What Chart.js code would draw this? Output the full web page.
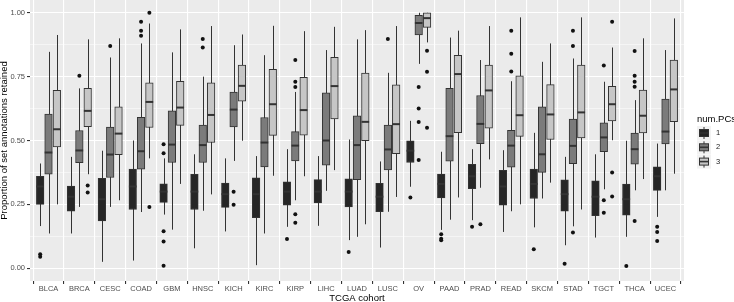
<!DOCTYPE html>
<html>
<head>
<meta charset="utf-8">
<script src="https://cdn.jsdelivr.net/npm/chart.js@4"></script>
<style>
  html, body { margin: 0; padding: 0; background: #fff; }
</style>
</head>
<body>
<canvas id="boxChart" width="734" height="302"></canvas>
<script>
const cohorts = ["BLCA", "BRCA", "CESC", "COAD", "GBM", "HNSC", "KICH", "KIRC", "KIRP", "LIHC",
                 "LUAD", "LUSC", "OV", "PAAD", "PRAD", "READ", "SKCM", "STAD", "TGCT", "THCA", "UCEC"];
const numPCs = ["1", "2", "3"];

// [lower whisker, q1, median, q3, upper whisker] per cohort
const pc1 = [
  [0.165, 0.250, 0.320, 0.360, 0.410], [0.136, 0.223, 0.280, 0.322, 0.436], [0.025, 0.185, 0.270, 0.352, 0.460],
  [0.030, 0.230, 0.320, 0.388, 0.500], [0.210, 0.258, 0.300, 0.330, 0.430], [0.078, 0.230, 0.300, 0.368, 0.446],
  [0.144, 0.238, 0.290, 0.333, 0.430], [0.012, 0.198, 0.290, 0.354, 0.439], [0.162, 0.247, 0.300, 0.338, 0.466],
  [0.166, 0.256, 0.300, 0.347, 0.439], [0.110, 0.240, 0.300, 0.350, 0.504], [0.081, 0.221, 0.280, 0.332, 0.418],
  [0.319, 0.414, 0.460, 0.499, 0.577], [0.150, 0.275, 0.330, 0.369, 0.456], [0.188, 0.311, 0.360, 0.407, 0.466],
  [0.142, 0.247, 0.320, 0.383, 0.462], [0.160, 0.273, 0.330, 0.388, 0.530], [0.090, 0.223, 0.290, 0.346, 0.436],
  [0.120, 0.206, 0.280, 0.342, 0.446], [0.123, 0.208, 0.270, 0.329, 0.499], [0.201, 0.305, 0.360, 0.397, 0.488]
];
const pc2 = [
  [0.136, 0.368, 0.453, 0.603, 0.847], [0.240, 0.413, 0.461, 0.539, 0.704], [0.240, 0.355, 0.445, 0.553, 0.825],
  [0.220, 0.388, 0.458, 0.591, 0.880], [0.151, 0.414, 0.484, 0.616, 0.845], [0.225, 0.414, 0.482, 0.560, 0.750],
  [0.420, 0.553, 0.621, 0.690, 0.873], [0.136, 0.397, 0.492, 0.590, 0.834], [0.266, 0.420, 0.480, 0.535, 0.690],
  [0.303, 0.403, 0.500, 0.687, 0.854], [0.123, 0.347, 0.482, 0.597, 0.896], [0.221, 0.385, 0.465, 0.560, 0.765],
  [0.800, 0.913, 0.960, 0.990, 1.000], [0.190, 0.419, 0.517, 0.704, 0.903], [0.315, 0.488, 0.565, 0.676, 0.815],
  [0.223, 0.396, 0.480, 0.540, 0.732], [0.273, 0.375, 0.446, 0.632, 0.808], [0.164, 0.409, 0.479, 0.584, 0.821],
  [0.309, 0.456, 0.512, 0.569, 0.730], [0.305, 0.407, 0.466, 0.529, 0.658], [0.305, 0.487, 0.535, 0.662, 0.854]
];
const pc3 = [
  [0.250, 0.475, 0.544, 0.696, 0.913], [0.368, 0.554, 0.616, 0.704, 0.896], [0.266, 0.445, 0.527, 0.632, 0.900],
  [0.430, 0.551, 0.651, 0.726, 0.958], [0.330, 0.559, 0.629, 0.732, 0.935], [0.289, 0.492, 0.600, 0.726, 0.948],
  [0.499, 0.654, 0.714, 0.795, 0.915], [0.362, 0.520, 0.642, 0.779, 0.949], [0.360, 0.521, 0.619, 0.747, 0.928],
  [0.384, 0.584, 0.713, 0.826, 0.945], [0.172, 0.499, 0.573, 0.764, 0.932], [0.279, 0.448, 0.564, 0.718, 0.948],
  [0.884, 0.943, 0.979, 1.000, 1.000], [0.277, 0.531, 0.760, 0.833, 0.930], [0.426, 0.548, 0.696, 0.795, 0.948],
  [0.250, 0.516, 0.599, 0.753, 0.982], [0.335, 0.504, 0.602, 0.719, 0.880], [0.230, 0.510, 0.610, 0.795, 0.982],
  [0.501, 0.577, 0.642, 0.712, 0.864], [0.349, 0.530, 0.597, 0.697, 0.900], [0.370, 0.574, 0.700, 0.815, 0.978]
];

// outliers per cohort
const out1 = [
  [0.055, 0.045], [], [], [], [0.485, 0.450, 0.145, 0.105, 0.010], [], [], [], [0.114], [],
  [0.064], [], [0.277], [0.133, 0.115, 0.110], [0.162], [], [0.074], [0.018], [], [0.009], [0.162, 0.142, 0.107]
];
const out2 = [
  [], [0.753], [0.870], [0.965, 0.930, 0.910], [], [0.897, 0.864], [0.299, 0.248], [], [0.815, 0.730, 0.709, 0.211, 0.178], [],
  [], [0.897], [0.709, 0.625, 0.572, 0.424], [], [0.172], [0.930, 0.840, 0.770], [], [0.930, 0.870, 0.140],
  [0.794, 0.266, 0.217], [0.850, 0.753, 0.730, 0.710, 0.185], []
];
const out3 = [
  [], [0.324, 0.296], [], [1.000, 0.240], [], [], [], [], [], [],
  [], [], [0.851, 0.769, 0.550], [], [], [], [], [], [0.965, 0.375, 0.281], [], []
];

const yTicks = [0, 0.125, 0.25, 0.375, 0.5, 0.625, 0.75, 0.875, 1];

const fills = ["#262626", "#7b7b7b", "#c6c6c6"];
const outline = "#333333";
const dodge = [-0.27, 0, 0.27];
const boxPx = 7.6;
const font = "'Liberation Sans', Arial, sans-serif";

const summaries = [pc1, pc2, pc3];
const outliers = [out1, out2, out3];

const isMajor = v => Math.abs(v * 4 - Math.round(v * 4)) < 1e-6;

const datasets = [];
summaries.forEach((s, g) => {
  datasets.push({
    type: 'bar',
    label: numPCs[g],
    data: s.map((b, i) => ({ x: i + dodge[g], y: [b[1], b[3]] })),
    backgroundColor: fills[g],
    borderColor: outline,
    borderWidth: 1,
    borderSkipped: false,
    barThickness: boxPx,
    grouped: false,
    order: 2
  });
});
outliers.forEach((o, g) => {
  const pts = [];
  o.forEach((vals, i) => vals.forEach(v => pts.push({ x: i + dodge[g], y: v })));
  datasets.push({
    type: 'scatter',
    label: 'out' + numPCs[g],
    data: pts,
    pointRadius: 2,
    pointBackgroundColor: '#111',
    pointBorderWidth: 0,
    order: 1
  });
});

// panel background, whiskers, medians and the boxplot legend
const boxParts = {
  id: 'boxParts',
  beforeDraw(chart) {
    const { ctx, chartArea: a } = chart;
    ctx.save();
    ctx.fillStyle = '#ebebeb';
    ctx.fillRect(a.left, a.top, a.right - a.left, a.bottom - a.top);
    ctx.restore();
  },
  beforeDatasetsDraw(chart) {
    const { ctx, scales: { x, y } } = chart;
    ctx.save();
    ctx.strokeStyle = outline;
    ctx.lineWidth = 1;
    summaries.forEach((s, g) => s.forEach((b, i) => {
      const px = Math.round(x.getPixelForValue(i + dodge[g])) + 0.5;
      ctx.beginPath();
      ctx.moveTo(px, y.getPixelForValue(b[0]));
      ctx.lineTo(px, y.getPixelForValue(b[4]));
      ctx.stroke();
    }));
    ctx.restore();
  },
  afterDatasetsDraw(chart) {
    const { ctx, scales: { x, y } } = chart;
    ctx.save();
    ctx.strokeStyle = outline;
    ctx.lineWidth = 2;
    summaries.forEach((s, g) => s.forEach((b, i) => {
      const px = x.getPixelForValue(i + dodge[g]);
      const py = y.getPixelForValue(b[2]);
      ctx.beginPath();
      ctx.moveTo(px - boxPx / 2, py);
      ctx.lineTo(px + boxPx / 2, py);
      ctx.stroke();
    }));
    ctx.restore();
  },
  afterDraw(chart) {
    const { ctx } = chart;
    const left = 697;
    ctx.save();
    ctx.fillStyle = '#000';
    ctx.font = "9.5px " + font;
    ctx.textBaseline = 'middle';
    ctx.fillText('num.PCs', left, 119);
    numPCs.forEach((lab, g) => {
      const cy = 133 + g * 14.3;
      ctx.fillStyle = '#f2f2f2';
      ctx.fillRect(left, cy - 7, 14, 14);
      ctx.strokeStyle = outline;
      ctx.lineWidth = 1;
      ctx.beginPath();
      ctx.moveTo(left + 7, cy - 6);
      ctx.lineTo(left + 7, cy + 6);
      ctx.stroke();
      ctx.fillStyle = fills[g];
      ctx.fillRect(left + 2, cy - 3.5, 10, 7);
      ctx.strokeRect(left + 2.5, cy - 3.5, 9, 7);
      ctx.lineWidth = 1.6;
      ctx.beginPath();
      ctx.moveTo(left + 2.5, cy);
      ctx.lineTo(left + 11.5, cy);
      ctx.stroke();
      ctx.fillStyle = '#1a1a1a';
      ctx.font = "7.5px " + font;
      ctx.fillText(lab, left + 19, cy);
    });
    ctx.restore();
  }
};

new Chart(document.getElementById('boxChart'), {
  type: 'bar',
  data: { datasets },
  options: {
    responsive: false,
    animation: false,
    layout: { autoPadding: false, padding: { left: 0, right: 50, top: 0, bottom: 0 } },
    scales: {
      x: {
        type: 'linear',
        min: -0.6,
        max: cohorts.length - 0.4,
        offset: false,
        afterBuildTicks: s => { s.ticks = cohorts.map((c, i) => ({ value: i })); },
        afterFit: s => { s.height = 21; s.paddingLeft = 0; s.paddingRight = 0; },
        ticks: {
          autoSkip: false,
          maxRotation: 0,
          padding: 0,
          color: '#4d4d4d',
          font: { size: 7.5, family: font },
          callback: v => cohorts[v]
        },
        grid: { color: '#ffffff', lineWidth: 1.1, tickColor: outline, tickLength: 3 },
        border: { display: false },
        title: { display: true, text: 'TCGA cohort', color: '#000', font: { size: 9.5, family: font }, padding: { top: 0, bottom: -2.5 } }
      },
      y: {
        min: -0.05,
        max: 1.05,
        afterBuildTicks: s => { s.ticks = yTicks.map(v => ({ value: v })); },
        afterFit: s => { s.width = 30; s.paddingTop = 0; s.paddingBottom = 0; },
        ticks: {
          padding: 2,
          color: '#4d4d4d',
          font: { size: 7.5, family: font },
          callback: v => isMajor(v) ? v.toFixed(2) : ''
        },
        grid: {
          color: '#ffffff',
          lineWidth: c => isMajor(c.tick.value) ? 1.1 : 0.5,
          tickColor: c => isMajor(c.tick.value) ? outline : 'rgba(0,0,0,0)',
          tickLength: 3
        },
        border: { display: false },
        title: { display: true, text: 'Proportion of set annotations retained', color: '#000', font: { size: 9.5, family: font }, padding: { top: -1, bottom: 0 } }
      }
    },
    plugins: {
      legend: { display: false },
      tooltip: { enabled: false }
    }
  },
  plugins: [boxParts]
});
</script>
</body>
</html>
